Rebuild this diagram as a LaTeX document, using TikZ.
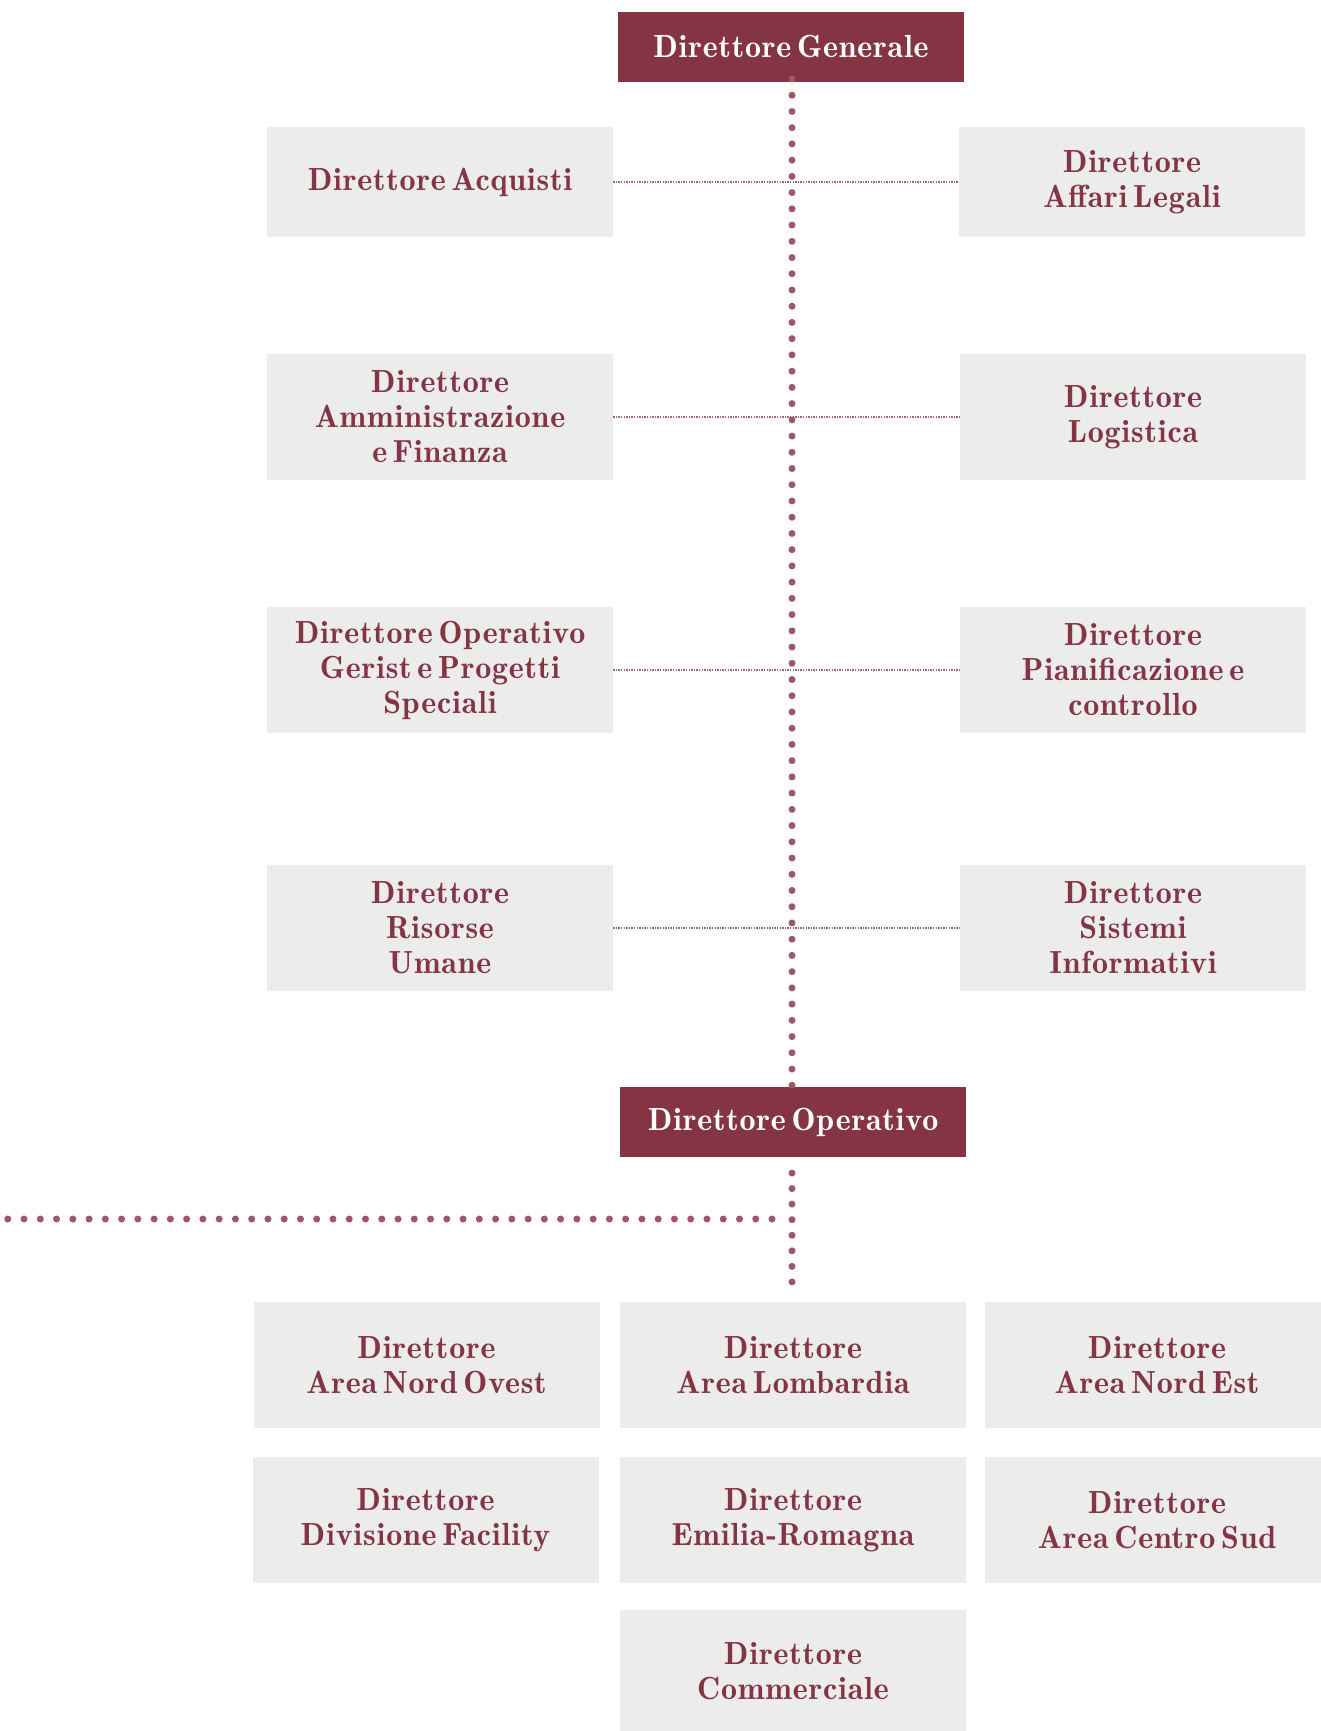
\documentclass[tikz,border=0pt]{standalone}
\usepackage{fontspec}
\newfontfamily\boxfont[Extension=.otf, LetterSpace=2.5, WordSpace=0.5]{lmromandemi10-regular}
\definecolor{maroon}{HTML}{853444}
\definecolor{dotc}{HTML}{9D5961}
\definecolor{boxgrey}{HTML}{ECECEC}
\tikzset{
  greybox/.style={fill=boxgrey, draw=none, inner sep=0pt, align=center, text=maroon,
    font=\boxfont\fontsize{32}{35}\selectfont},
  redbox/.style={fill=maroon, draw=none, inner sep=0pt, align=center, text=white,
    font=\boxfont\fontsize{32}{35}\selectfont},
  colbox/.style={greybox, minimum width=346pt, minimum height=126pt},
  rcolbox/.style={greybox, minimum width=344pt, minimum height=126pt},
  bigdots/.style={dotc, line width=7pt, line cap=round, dash pattern=on 0pt off #1},
  thinline/.style={maroon!75, line width=1.3pt, dash pattern=on 1.3pt off 1.3pt}
}
\begin{document}
\begin{tikzpicture}[x=1pt,y=-1pt]
\useasboundingbox (0,0) rectangle (1321,1731);
\clip (0,0) rectangle (1321,1731);
% top
\node[redbox, minimum width=346pt, minimum height=70pt] (dg) at (791,47) {Direttore Generale};
\node[redbox, minimum width=346pt, minimum height=70pt] (do) at (793,1122) {Direttore Operativo};
% staff rows
\node[greybox, minimum width=346pt, minimum height=110pt] (acq) at (440,182) {Direttore Acquisti};
\node[greybox, minimum width=346pt, minimum height=110pt] (leg) at (1132,182) {Direttore\\Affari Legali};
\node[colbox] (amm) at (440,417) {Direttore\\Amministrazione\\e Finanza};
\node[colbox] (log) at (1133,417) {Direttore\\Logistica};
\node[colbox] (ger) at (440,670) {Direttore Operativo\\Gerist e Progetti\\Speciali};
\node[colbox] (pia) at (1133,670) {Direttore\\Pianificazione e\\controllo};
\node[colbox] (ris) at (440,928) {Direttore\\Risorse\\Umane};
\node[colbox] (sis) at (1133,928) {Direttore\\Sistemi\\Informativi};
% thin connectors
\draw[thinline] (acq.east) -- (leg.west);
\draw[thinline] (amm.east) -- (log.west);
\draw[thinline] (ger.east) -- (pia.west);
\draw[thinline] (ris.east) -- (sis.west);
% operating areas
\node[colbox] (ano) at (426.5,1365) {Direttore\\Area Nord Ovest};
\node[colbox] (alo) at (793,1365) {Direttore\\Area Lombardia};
\node[rcolbox] (ane) at (1157,1365) {Direttore\\Area Nord Est};
\node[colbox] (dfa) at (425.5,1520) {Direttore\\Divisione Facility};
\node[colbox] (emr) at (793,1520) {Direttore\\Emilia-Romagna};
\node[rcolbox] (acs) at (1157,1520) {Direttore\\Area Centro Sud};
\node[greybox, minimum width=346pt, minimum height=122pt] (com) at (793,1671) {Direttore\\Commerciale};
% dotted connectors
\coordinate (v1) at (792,79);
\coordinate (v2) at (792,1086);
\draw[bigdots=16.23pt] (v1) -- (v2);
\coordinate (w1) at (792,1173);
\coordinate (w2) at (792,1282);
\draw[bigdots=15.56pt] (w1) -- (w2);
\coordinate (h1) at (772,1219);
\coordinate (h2) at (7,1219);
\draw[bigdots=16.26pt] (h1) -- (h2);
\end{tikzpicture}
\end{document}
